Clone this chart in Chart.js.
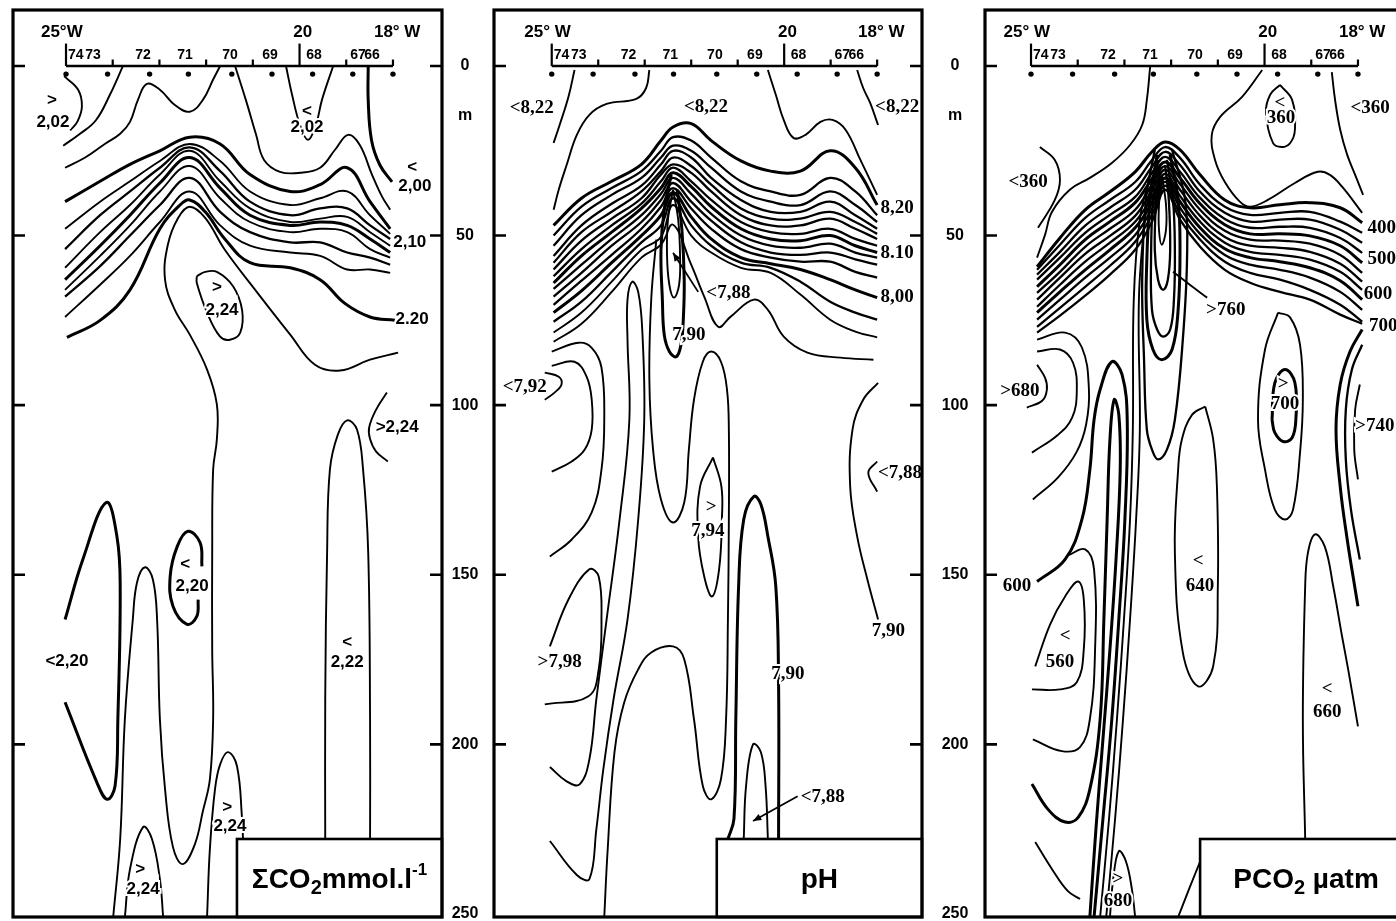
<!DOCTYPE html>
<html>
<head>
<meta charset="utf-8">
<script src="https://cdn.jsdelivr.net/npm/chart.js@4.4.1/dist/chart.umd.min.js"></script>
<style>
  body { margin: 0; background: #fff; overflow: hidden; width: 1396px; height: 921px; position: relative; }
  canvas { position: absolute; top: 0; }
</style>
</head>
<body>
<canvas id="co2" width="490" height="921" style="left:0"></canvas>
<canvas id="ph" width="490" height="921" style="left:490px"></canvas>
<canvas id="pco2" width="440" height="921" style="left:980px"></canvas>
<script>
// stations along the section (deg W) and the surface axis
const stationLon = [25.0, 24.11, 23.21, 22.38, 21.45, 20.59, 19.72, 18.86, 18.0];
const stationNames = ['74', '73', '72', '71', '70', '69', '68', '67', '66'];
const stationNameLon = [24.79, 24.42, 23.35, 22.45, 21.49, 20.63, 19.69, 18.75, 18.45];
const lonTicks = [25, 24, 23, 22, 21, 20, 19, 18];
const lonMajor = [25, 20];
const depthTicks = [0, 50, 100, 150, 200, 250];

// ---------- total CO2 (mmol/l) ----------
const co2A = [[25.04,3],[24.74,7],[24.66,12],[24.76,16.5],[24.91,19]];
const co2B = [[23.78,0],[24.06,8.5],[24.36,16],[24.70,20],[25.06,23.5]];
const co2C = [[25.02,30],[24.59,27],[24.17,23],[23.84,20],[23.63,16.5],[23.46,10],[23.27,5.3],[22.99,7],[22.67,11.5],[22.35,13.5],[22.07,10],[21.85,4],[21.70,0]];
const co2V = [[20.29,0],[20.16,8.5],[19.99,17.4],[19.82,21.8],[19.65,17.4],[19.52,10],[19.28,0]];
const co2D = [[21.38,0],[21.15,10],[20.93,20.3],[20.76,27.7],[20.42,31.2],[19.99,31.5],[19.56,30],[19.24,24.7],[18.96,20.3],[18.71,23.3],[18.45,32],[18.23,38.6],[18.06,42.4]];
const co2R = [[18.53,0],[18.53,10],[18.46,21.8],[18.28,29.2],[18.02,34.2]];
const co2BandLon = [25.02,24.27,23.63,22.99,22.35,21.70,21.06,20.20,19.56,18.98,18.49,18.06];
const co2L1 = [40,34,29,25,21,23,32,37,35,30,40,48];
const co2L2 = [48,40,34,28,23,28,37,41,39,37,44,49.5];
const co2L3 = [54,44,37,30,24,31,40,44,42,42,47,51];
const co2L4 = [59.5,49,41,32,25,34,42,46,45,44.5,49,53];
const co2L5 = [63,53,44,34.5,27,36,44,47,46,47,51,55];
const co2L6 = [66,56,47,37,29.5,39,46,49,48,49,54,56.5];
const co2L7 = [68,59,50,41,33,43,49,52,52,55,56.5,58.6];
const co2L8 = [74,64.5,56,46,37,47,53,55,56,60,60,61];
const co2T220 = [[24.98,80],[24.27,75],[23.63,66],[22.99,48],[22.56,41],[22.35,39.5],[22.02,43],[21.60,51],[21.06,58],[20.20,59.5],[19.56,63],[19.03,70],[18.49,74],[17.96,75]];
const co2Long = [[17.89,84.5],[18.49,86.6],[19.13,89.8],[19.67,88.1],[20.20,79.2],[20.95,66],[21.60,54.2],[22.02,44.8],[22.35,41.5],[22.60,44.8],[22.82,52.7],[22.88,63],[22.67,71.9],[22.35,79.2],[21.98,89.5],[21.77,99.8],[21.77,110],[21.85,119],[21.87,143.4],[21.87,172],[21.85,192.6],[21.92,210.3],[22.07,219.7],[22.24,229.4],[22.50,235.3],[22.71,230.3],[22.88,213.2],[22.99,192.6],[23.05,163.2],[23.14,151.4],[23.31,147.8],[23.48,152.3],[23.57,163.2],[23.74,192.6],[23.84,227.9],[23.99,250.9]];
const co2Loop224 = [[22.20,62],[22.02,60.7],[21.77,60.7],[21.42,65],[21.23,72],[21.27,78.6],[21.49,80.7],[21.70,79.8],[21.98,72.7],[22.20,64],[22.20,62]];
const co2Br224 = [[18.13,96.3],[18.36,101.3],[18.51,106.6],[18.49,110],[18.36,113.7],[18.11,116.6]];
const co2Loop222 = [[19.45,227.9],[19.45,186.7],[19.41,143.4],[19.35,119],[19.18,108.7],[18.98,104.5],[18.77,107.2],[18.64,119],[18.53,143.4],[18.49,192.6],[18.49,227.9]];
const co2Br220 = [[25.02,163.2],[24.64,145.5],[24.14,128.7],[23.91,138.7],[23.84,153.4],[23.89,192.6],[23.95,212.3],[24.12,216.2],[24.34,211.2],[25.02,187.6]];
const co2Loop220 = [[22.09,147.5],[22.13,140.5],[22.39,137.2],[22.62,141.7],[22.77,150.5],[22.71,159.3],[22.41,164.6],[22.20,162.3],[22.17,157.3]];
const co2Hump224a = [[23.74,250.9],[23.63,236.8],[23.35,224.4],[23.16,227.9],[22.99,239.7],[22.92,250.9]];
const co2Hump224b = [[21.98,250.9],[21.92,230.9],[21.81,213.2],[21.70,205.9],[21.53,202.3],[21.34,206.4],[21.23,222],[21.21,227.9]];
const co2Labels = [
  ['>',25.30,10],['2,02',25.28,16.5],['<',19.84,13.5],['2,02',19.84,18],
  ['<',17.59,30],['2,00',17.53,35.6],['2,10',17.64,52.1],['2.20',17.59,74.8],
  ['>',21.77,65.4],['2,24',21.66,71.9],['>2,24',17.91,106.6],
  ['<',22.45,147],['2,20',22.30,153.4],['<2,20',24.98,175.5],
  ['<',18.98,170],['2,22',18.98,175.8],['>',21.55,218.5],['2,24',21.49,224.1],
  ['>',23.41,236.8],['2,24',23.35,242.7]
];

// ---------- pH ----------
const phP1 = [[24.51,1.2],[24.64,9.1],[24.83,17.4],[24.96,22.7]];
const phP2 = [[22.90,1.2],[22.97,6.5],[23.18,9.7],[23.82,11.2],[24.19,14.4],[24.46,20.3],[24.68,29.2],[24.85,36.5],[24.96,42.4]];
const phPa = [[20.35,1.2],[20.18,8.5],[20.01,15.9],[19.80,21.2],[19.54,20.3],[19.22,16.5],[18.96,15.9],[18.68,18.8],[18.36,27.7],[18.00,38]];
const phP4 = [[18.43,1.2],[18.30,6.5],[18.15,10.9],[17.98,17.4]];
const phBandLon = [24.96,24.36,23.71,23.07,22.65,22.39,22.00,21.57,20.93,20.29,19.65,19.01,18.47,18.00];
const phT1 = [47,39,34,29,22,18,17,22,28,31,31,25,30,41];
const phT2 = [50,41.5,36,31,25,21,22,27,34,37,38,33,37,44];
const phT3 = [53,44,38,33,27,23.5,25,30,37,40,41,37,41,46];
const phT4 = [56,47,40.6,35.3,29,25,27,33,39.5,43,43,40,44,48];
const phT5 = [58,49,43,37,31,27,29.5,35,42,45,45,43,46,49.5];
const phT6 = [60,51.5,45,39,32,29,31.5,37,44,47,47,45,48,51];
const phT7 = [62,54,47,40.6,34,30,34,39.5,46,49,49.5,48,51,53];
const phT8 = [64,56,49,42,36,31.5,35.6,41.5,48,51,51.5,50,53,55];
const phT9 = [65.7,58.6,51,44,37.7,33,37.7,43.6,50,53,53.6,52.4,55,56.5];
const phT10 = [68,61,53,46,39.5,34.5,40,45.6,52,55,55.7,55,57,58.6];
const phT11 = [70.4,63.3,55.7,48,41.5,36,42,48,54,56.5,57.7,57.7,60.7,62.4];
const phT12 = [72.7,66.3,58,50,44,37.4,44.5,51,56.5,58.3,60,63,66,68.3];
const phT13 = [75.4,69.5,60.7,52,47,39,47,53,58,59.5,63.6,69.5,72.7,74.8];
const phT14 = [78.6,72.7,63.6,54.2,50.4,41,50,55,59.5,61,67.4,74.8,78.3,80];
const phT15 = [[24.96,81.3],[24.36,76],[23.71,66.6],[23.07,56.5],[22.65,52.7],[22.39,46.8],[22.00,58.6],[21.72,68],[21.42,76.9],[21.15,73.9],[20.65,68.9],[20.35,71.9],[20.01,79.8],[19.50,84.5],[18.79,86],[18.08,86.6]];
const phBr1 = [[25.00,84.2],[24.42,81.6],[24.14,83.1],[23.93,88.9],[23.87,104.3],[23.93,119],[24.14,131.6],[24.57,139.6],[25.04,144.6]];
const phBr2 = [[25.00,88.4],[24.51,87.2],[24.25,91.6],[24.14,98.4],[24.14,107.2],[24.29,113.1],[24.57,116.6],[25.00,119.6]];
const phBr792 = [[25.15,90.4],[24.85,91.6],[24.79,93.9],[24.94,96.3],[25.15,98.4]];
const phArch = [[25.04,206.7],[24.68,210.9],[24.40,211.8],[24.19,204.4],[24.04,186.7],[23.82,163.2],[23.54,133.7],[23.33,104.3],[23.37,80.7],[23.37,68.9],[23.27,63.6],[23.14,66.6],[23.05,78.6],[23.01,104.3],[23.14,133.7],[23.37,163.2],[23.67,186.7],[23.89,207.3],[24.04,225],[24.19,239.7],[24.46,238.5],[25.04,228.5]];
const phU = [[22.75,51.2],[22.86,68.9],[22.90,92.5],[22.82,113.1],[22.65,127.8],[22.39,134.6],[22.15,128.7],[22.05,113.1],[21.94,98.4],[21.75,87.2],[21.57,84.2],[21.36,87.2],[21.23,95.4],[21.19,107.2],[21.19,133.7],[21.21,163.2],[21.25,192.6],[21.36,210.3],[21.57,216.2],[21.75,212.3],[21.94,192.6],[22.15,174.9],[22.39,171.1],[22.86,172.9],[23.14,177.9],[23.44,187.6],[23.65,202.3],[23.80,231.8],[23.87,250.9]];
const phN2 = [[22.43,32.1],[22.58,42.4],[22.65,54.2],[22.62,68.9],[22.58,79.2],[22.47,84.2],[22.32,85.7],[22.22,82.2],[22.17,74.8],[22.15,63],[22.20,48.3],[22.30,36.5]];
const phN1 = [[22.39,36.5],[22.50,45.3],[22.52,55.7],[22.47,64.5],[22.37,68.3],[22.26,64.5],[22.24,55.7],[22.28,45.3],[22.39,36.5]];
const ph794 = [[21.53,115.4],[21.35,124],[21.34,133.7],[21.40,148.4],[21.55,156.4],[21.72,150.5],[21.85,138.7],[21.81,124],[21.53,115.4]];
const phH2 = [[21.21,227.9],[21.08,222],[21.04,192.6],[20.98,153.4],[20.87,133.7],[20.65,126.9],[20.50,129.3],[20.35,138.7],[20.18,153.4],[20.12,182.9],[20.12,227.9]];
const phH3 = [[20.87,227.9],[20.82,212.3],[20.67,200],[20.50,202.3],[20.40,212.3],[20.35,227.9]];
const phR790 = [[17.98,93.4],[18.30,98.4],[18.53,107.2],[18.58,124],[18.43,138.7],[18.21,151.4],[17.98,163.2]];
const phR788 = [[18.00,116.6],[18.19,119.9],[18.00,125.5]];
const ph798 = [[25.04,171.1],[24.64,157.3],[24.19,148.4],[23.99,150.5],[23.93,163.2],[23.99,177.9],[24.21,185.8],[25.15,188.2]];
const phArrows = [[[21.85,66.6],[22.39,55.1]], [[19.71,215.3],[20.67,222.6]]];
const phLabels = [
  ['<8,22',25.43,12.4],['<8,22',21.68,12.1],['<8,22',17.57,12.1],
  ['8,20',17.57,41.8],['8.10',17.57,55.1],['8,00',17.57,68],
  ['<7,88',21.20,67],['7,90',22.05,79.2],['<7,92',25.58,94.8],
  ['>',21.57,130],['7,94',21.64,137.2],['<7,88',17.51,120],['7,90',17.76,166.7],
  ['>7,98',24.83,175.8],['7,90',19.92,179.3],['<7,88',19.17,215.6]
];

// ---------- pCO2 (uatm) ----------
const pcQ1 = [[22.45,0.3],[22.52,10],[22.62,17.4],[22.88,23.3],[23.27,28.6],[23.74,33],[24.17,36.5],[24.55,43],[24.70,49.8],[24.87,56.5]];
const pcQ2 = [[24.81,23.9],[24.49,27.7],[24.38,33.6],[24.49,39.5],[24.85,47.7]];
const pcQ3 = [[20.05,1.2],[20.48,9.1],[20.95,15],[21.13,20.3],[21.06,27.7],[20.85,34.2],[20.53,40],[20.31,41.5],[19.93,39.5],[19.35,34.5],[18.86,31.2],[18.60,32.1],[18.34,35.6],[17.91,43.3]];
const pcQ4 = [[19.67,5.6],[19.41,10],[19.35,18.8],[19.45,22.7],[19.63,23.9],[19.82,22.7],[19.97,13.8],[19.88,8.5],[19.67,5.6]];
const pcQ5 = [[18.56,1.8],[18.49,10],[18.38,18.8],[18.23,26.2],[18.06,32.1],[17.89,38]];
const pcBandLon = [24.87,24.38,23.84,23.31,22.77,22.41,22.13,21.81,21.38,20.85,20.31,19.67,19.03,18.38,17.91];
const pcB1 = [59.2,50.7,42.4,37.1,31.2,25.3,22.4,24.7,32.1,39.5,41.8,40.9,40.3,41.8,46.2];
const pcB2 = [60.1,52.7,44.8,39.5,34.2,27.7,23.9,27.1,35,41.5,43.9,43.3,43,45.9,49.2];
const pcB3 = [61.5,54.8,47.1,41.8,36.5,29.7,25.3,29.2,37.1,43.3,45.9,45.3,45.3,48.3,52.1];
const pcB4 = [63,56.5,49.2,43.9,38.6,31.5,26.8,31.2,38.9,45.1,47.7,47.4,47.7,50.7,55.1];
const pcB5 = [65.1,58.6,51.2,45.9,40.3,33.3,28.3,33,40.6,46.8,49.5,49.5,50.1,53,58];
const pcB6 = [66.9,60.7,53.3,48,42.4,35,29.5,34.8,42.4,48.6,51.2,51.5,52.4,55.7,61];
const pcB7 = [68.9,62.4,55.4,50.1,44.2,36.8,30.6,36.5,44.2,50.4,53,53.6,54.8,58.3,63.6];
const pcB8 = [71,64.5,57.7,52.1,45.9,38.6,31.8,38.3,45.9,52.1,54.8,55.7,57.1,60.7,66];
const pcB9 = [72.7,66.6,60.1,54.2,47.7,40.3,33,40,47.7,53.9,56.5,57.7,59.5,63.3,68.9];
const pcB10 = [74.8,68.9,62.4,56.5,49.8,42.1,34.2,41.8,49.5,55.7,58.6,60.1,62.4,66.6,71.9];
const pcB11 = [76.9,71.3,65.1,58.9,51.8,43.9,35.3,43.6,51.2,57.7,61,63,66,70.4,75.4];
const pcB12 = [78.6,73.6,67.7,61.5,54.2,45.9,36.5,45.3,53.3,60.1,63.9,66.6,68.9,73.3,76];
const pcLoopA = [[22.20,32.1],[22.26,40.9],[22.26,48.3],[22.20,52.7],[22.11,48.3],[22.11,40.9],[22.20,32.1]];
const pcLoopB = [[22.24,29.2],[22.32,39.5],[22.35,54.2],[22.28,63],[22.17,66],[22.07,63],[22.02,54.2],[22.05,39.5],[22.13,29.2]];
const pcLoopC = [[22.28,27.7],[22.39,39.5],[22.43,57.1],[22.41,71.9],[22.30,77.7],[22.17,79.8],[22.02,77.7],[21.94,68.9],[21.92,54.2],[21.96,39.5],[22.09,27.7]];
const pcLoopD = [[22.30,26.2],[22.45,39.5],[22.52,57.1],[22.52,74.8],[22.39,83.6],[22.20,86.6],[21.98,83.6],[21.85,71.9],[21.81,54.2],[21.85,39.5],[22.02,26.2]];
const pcLoopE = [[22.35,24.7],[22.54,39.5],[22.62,63],[22.58,86.6],[22.52,107.2],[22.41,113.1],[22.28,116],[22.09,113.1],[21.92,104.3],[21.75,80.7],[21.66,57.1],[21.70,39.5],[21.98,24.7]];
const pc760 = [[21.96,60.7],[21.60,64.5],[21.23,68.3]];
const pcK2 = [[22.45,32.1],[22.67,45.3],[22.80,68.9],[22.82,107.2],[22.88,133.7],[23.01,163.2],[23.16,192.6],[23.33,222],[23.52,250.9]];
const pcK3 = [[22.39,32.1],[22.56,45.3],[22.69,68.9],[22.67,107.2],[22.75,133.7],[22.88,163.2],[23.03,192.6],[23.20,222],[23.39,250.9]];
const pcHump = [[24.87,152],[24.27,145.5],[23.91,133.7],[23.74,119],[23.65,104.3],[23.52,95.4],[23.27,87.2],[23.05,91],[22.94,104.3],[22.99,133.7],[23.12,163.2],[23.27,192.6],[23.46,222],[23.65,250.9]];
const pcK4 = [[24.98,211.7],[24.64,219.1],[24.27,222.9],[23.99,221.5],[23.74,213.2],[23.52,192.6],[23.44,163.2],[23.37,133.7],[23.31,110.1],[23.22,98.4],[23.12,102.8],[23.09,119],[23.18,145.5],[23.31,172],[23.46,198.5],[23.61,225],[23.74,250.9]];
const pcBrA = [[24.87,80.7],[24.27,78.6],[23.91,83],[23.76,95.4],[23.82,105.7],[24.02,113.7],[24.42,121.3],[24.96,127.8]];
const pcBrB = [[24.87,84.2],[24.38,83.6],[24.10,87.5],[24.02,96],[24.12,103.7],[24.42,108.7],[24.98,114]];
const pcBr680 = [[24.87,88.1],[24.70,91.9],[24.66,95.4],[24.76,98.7],[25.09,100.7]];
const pcLoop560 = [[24.91,177],[24.59,164.6],[24.27,156.4],[23.99,152],[23.87,157.3],[23.87,172],[24.02,181.7],[24.38,183.8],[24.98,183.8]];
const pcBr560 = [[24.21,144.3],[23.84,142.5],[23.65,148.4],[23.63,172.9],[23.74,192.6],[23.95,200.8],[24.34,202],[24.96,198.5]];
const pcBottomLeft = [[24.91,228.8],[24.55,236.8],[24.21,243.3],[23.95,245.6]];
const pcHump680 = [[23.31,250.9],[23.24,239.7],[23.12,231.5],[22.97,234.4],[22.84,242.7],[22.77,250.9]];
const pcLoop640 = [[21.27,100.4],[21.55,102.8],[21.77,110.1],[21.85,119],[21.92,143.4],[21.75,172.9],[21.42,182.9],[21.10,177],[21.00,153.4],[21.02,124],[21.10,110.1],[21.27,100.4]];
const pcRise = [[21.85,250.9],[21.60,242.1],[21.36,233.9]];
const pcLoop700 = [[19.84,104.3],[19.78,93.4],[19.56,89.5],[19.35,93.4],[19.33,104.3],[19.41,109.6],[19.60,110.7],[19.78,108.1],[19.84,104.3]];
const pcOuter700 = [[19.71,72.7],[19.99,83.6],[20.14,104.3],[19.99,119],[19.78,130.8],[19.56,133.7],[19.39,130.8],[19.24,114],[19.18,98.4],[19.24,82.2],[19.45,74.2],[19.71,72.7]];
const pc660 = [[19.13,227.9],[19.18,192.6],[19.13,153.4],[19.07,143.4],[18.92,138.1],[18.71,141.7],[18.53,153.4],[18.34,168.2],[18.21,177.9],[18.00,194.7]];
const pcRR1 = [[17.91,77.7],[18.17,84.2],[18.38,93.9],[18.47,107.2],[18.38,124],[18.23,139.6],[18.06,154.3],[18.00,159.3]];
const pcRR2 = [[17.91,82.2],[18.13,89.5],[18.26,101.3],[18.26,116],[18.15,130.8],[17.96,145.5]];
const pcRR3 = [[17.96,93.9],[18.06,101.3],[18.08,113.1],[18.00,121.9]];
const pcLabels = [
  ['<360',17.74,12.4],['<',19.67,10.9],['360',19.65,15.3],['<360',25.06,34.2],
  ['400',17.49,47.7],['500',17.49,56.8],['600',17.57,67.4],['700',17.46,76.6],
  ['>760',20.83,71.9],['>680',25.24,96],['>',19.60,93.9],['700',19.56,99.8],['>740',17.64,106.3],
  ['600',25.30,153.4],['<',21.42,146.1],['640',21.38,153.4],['<',24.27,168.2],['560',24.38,175.8],
  ['<',18.66,183.8],['660',18.66,190.5],['>',23.14,239.7],['680',23.14,246.2]
];

const zip = (lons, depths) => lons.map((v, i) => [v, depths[i]]);

function contour(points, width) {
  return {
    data: points.map(p => ({ x: p[0], y: p[1] })),
    showLine: true, borderColor: '#000', borderWidth: width || 1.9,
    pointRadius: 0, tension: 0.4, fill: false
  };
}

const SANS = '"Liberation Sans", Arial, sans-serif';
const SERIF = '"Liberation Serif", "Times New Roman", serif';

// per panel: labels, arrows, legend box, depth scale on the right side
const extras = {
  co2: {
    first: '25°W', labels: co2Labels, labelFont: 'bold 17px ' + SANS, arrows: [],
    box: { lon: 21.34, depth: 227.9, parts: [['ΣCO', 0], ['2', 1], ['mmol.l', 0], ['-1', -1]] },
    depthScale: 23
  },
  ph: {
    first: '25° W', labels: phLabels, labelFont: 'bold 19px ' + SERIF, arrows: phArrows,
    box: { lon: 21.45, depth: 227.9, parts: [['pH', 0]] },
    depthScale: 33
  },
  pco2: {
    first: '25° W', labels: pcLabels, labelFont: 'bold 19px ' + SERIF, arrows: [],
    box: { lon: 21.38, depth: 227.9, parts: [['PCO', 0], ['2', 1], [' µatm', 0]] },
    depthScale: null
  }
};

const sectionPlugin = {
  id: 'section',
  afterDatasetsDraw(chart) {
    const o = extras[chart.canvas.id];
    const ctx = chart.ctx, a = chart.chartArea;
    const X = v => chart.scales.x.getPixelForValue(v);
    const Y = v => chart.scales.y.getPixelForValue(v);
    ctx.save();
    ctx.strokeStyle = '#000';
    ctx.fillStyle = '#000';
    ctx.lineCap = 'butt';

    // longitude ticks on the surface axis
    ctx.lineWidth = 2.2;
    lonTicks.forEach(t => {
      ctx.beginPath();
      ctx.moveTo(X(t), Y(0));
      ctx.lineTo(X(t), Y(lonMajor.includes(t) ? -6.6 : -1.9));
      ctx.stroke();
    });
    ctx.textAlign = 'center';
    ctx.textBaseline = 'middle';
    ctx.font = 'bold 14px ' + SANS;
    stationNames.forEach((s, i) => ctx.fillText(s, X(stationNameLon[i]), Y(-3.2)));
    ctx.font = 'bold 17px ' + SANS;
    ctx.fillText(o.first, X(25.09), Y(-9.8));
    ctx.fillText('20', X(19.93), Y(-9.8));
    ctx.fillText('18° W', X(17.91), Y(-9.8));

    // isoline labels
    ctx.font = o.labelFont;
    o.labels.forEach(([s, lon, d]) => {
      ctx.lineWidth = 4;
      ctx.strokeStyle = '#fff';
      ctx.strokeText(s, X(lon), Y(d));
      ctx.fillText(s, X(lon), Y(d));
    });
    ctx.strokeStyle = '#000';

    // arrows pointing at small cores
    ctx.lineWidth = 1.8;
    o.arrows.forEach(([p0, p1]) => {
      const x0 = X(p0[0]), y0 = Y(p0[1]), x1 = X(p1[0]), y1 = Y(p1[1]);
      const ang = Math.atan2(y1 - y0, x1 - x0);
      ctx.beginPath(); ctx.moveTo(x0, y0); ctx.lineTo(x1, y1); ctx.stroke();
      ctx.beginPath();
      ctx.moveTo(x1, y1);
      ctx.lineTo(x1 - 9 * Math.cos(ang - 0.4), y1 - 9 * Math.sin(ang - 0.4));
      ctx.lineTo(x1 - 9 * Math.cos(ang + 0.4), y1 - 9 * Math.sin(ang + 0.4));
      ctx.closePath(); ctx.fill();
    });

    // legend box, bottom right
    const bx = X(o.box.lon), by = Y(o.box.depth);
    ctx.fillStyle = '#fff';
    ctx.fillRect(bx, by, a.right - bx, a.bottom - by);
    ctx.fillStyle = '#000';
    ctx.lineWidth = 2.6;
    ctx.strokeRect(bx, by, a.right - bx, a.bottom - by);
    const fonts = { '0': 'bold 28px ' + SANS, '1': 'bold 20px ' + SANS, '-1': 'bold 17px ' + SANS };
    const shift = { '0': 0, '1': 8, '-1': -10 };
    let total = 0;
    o.box.parts.forEach(([s, k]) => { ctx.font = fonts[k]; total += ctx.measureText(s).width; });
    let cx = (bx + a.right) / 2 - total / 2;
    const cy = (by + a.bottom) / 2 + 2;
    ctx.textAlign = 'left';
    o.box.parts.forEach(([s, k]) => {
      ctx.font = fonts[k];
      ctx.fillText(s, cx, cy + shift[k]);
      cx += ctx.measureText(s).width;
    });

    // frame with inward depth ticks
    ctx.lineWidth = 3.2;
    ctx.strokeRect(a.left, a.top, a.right - a.left, a.bottom - a.top);
    ctx.lineWidth = 2.6;
    depthTicks.slice(0, 5).forEach(d => {
      ctx.beginPath();
      ctx.moveTo(a.left, Y(d)); ctx.lineTo(a.left + 12, Y(d));
      ctx.moveTo(a.right - 12, Y(d)); ctx.lineTo(a.right, Y(d));
      ctx.stroke();
    });

    // depth scale between panels
    if (o.depthScale) {
      ctx.textAlign = 'center';
      ctx.font = 'bold 16px ' + SANS;
      const lx = a.right + o.depthScale;
      depthTicks.forEach(d => ctx.fillText(String(d), lx, Y(d)));
      ctx.fillText('m', lx, Y(14.6));
    }
    ctx.restore();
  }
};

function makePanel(id, xMin, xMax, padLeft, padRight, lines) {
  const datasets = lines.map(([pts, w]) => contour(pts, w));
  // surface axis and station positions
  datasets.push({ data: [{ x: 25, y: 0 }, { x: 18, y: 0 }], showLine: true, borderColor: '#000', borderWidth: 2.4, pointRadius: 0, tension: 0 });
  datasets.push({ data: stationLon.map(v => ({ x: v, y: 2.4 })), showLine: false, pointRadius: 2.7, pointBackgroundColor: '#000', pointBorderWidth: 0 });
  return new Chart(document.getElementById(id), {
    type: 'scatter',
    data: { datasets },
    options: {
      responsive: false,
      animation: false,
      events: [],
      layout: { padding: { left: padLeft, right: padRight, top: 10, bottom: 3 } },
      scales: {
        x: { type: 'linear', min: xMin, max: xMax, reverse: true, display: false },
        y: { type: 'linear', min: -16.5, max: 250.9, reverse: true, display: false }
      },
      plugins: { legend: { display: false }, tooltip: { enabled: false } }
    },
    plugins: [sectionPlugin]
  });
}

const THIN = 1.9, MID = 2.3, BOLD = 3;

makePanel('co2', 16.95, 26.135, 13, 48, [
  [co2A, THIN], [co2B, THIN], [co2C, THIN], [co2V, THIN], [co2D, THIN], [co2R, BOLD],
  [zip(co2BandLon, co2L1), BOLD], [zip(co2BandLon, co2L2), THIN], [zip(co2BandLon, co2L3), MID],
  [zip(co2BandLon, co2L4), THIN], [zip(co2BandLon, co2L5), BOLD], [zip(co2BandLon, co2L6), THIN],
  [zip(co2BandLon, co2L7), MID], [zip(co2BandLon, co2L8), THIN],
  [co2T220, BOLD], [co2Long, THIN], [co2Loop224, THIN], [co2Br224, THIN], [co2Loop222, THIN],
  [co2Br220, BOLD], [co2Loop220, BOLD], [co2Hump224a, THIN], [co2Hump224b, THIN]
]);

makePanel('ph', 17.035, 26.242, 2, 58, [
  [phP1, THIN], [phP2, THIN], [phPa, THIN], [phP4, THIN],
  [zip(phBandLon, phT1), BOLD], [zip(phBandLon, phT2), MID], [zip(phBandLon, phT3), MID],
  [zip(phBandLon, phT4), MID], [zip(phBandLon, phT5), MID], [zip(phBandLon, phT6), MID],
  [zip(phBandLon, phT7), MID], [zip(phBandLon, phT8), BOLD], [zip(phBandLon, phT9), MID],
  [zip(phBandLon, phT10), MID], [zip(phBandLon, phT11), MID], [zip(phBandLon, phT12), BOLD],
  [zip(phBandLon, phT13), MID], [zip(phBandLon, phT14), THIN], [phT15, THIN],
  [phBr1, THIN], [phBr2, THIN], [phBr792, THIN], [phArch, THIN], [phU, THIN],
  [phN2, BOLD], [phN1, THIN], [ph794, THIN], [phH2, BOLD], [phH3, THIN],
  [phR790, THIN], [phR788, THIN], [ph798, THIN]
]);

makePanel('pco2', 16.843, 25.985, 5, 8, [
  [pcQ1, THIN], [pcQ2, THIN], [pcQ3, THIN], [pcQ4, THIN], [pcQ5, THIN],
  [zip(pcBandLon, pcB1), BOLD], [zip(pcBandLon, pcB2), MID], [zip(pcBandLon, pcB3), MID],
  [zip(pcBandLon, pcB4), MID], [zip(pcBandLon, pcB5), BOLD], [zip(pcBandLon, pcB6), MID],
  [zip(pcBandLon, pcB7), MID], [zip(pcBandLon, pcB8), MID], [zip(pcBandLon, pcB9), BOLD],
  [zip(pcBandLon, pcB10), MID], [zip(pcBandLon, pcB11), MID], [zip(pcBandLon, pcB12), MID],
  [pcLoopA, THIN], [pcLoopB, MID], [pcLoopC, MID], [pcLoopD, BOLD], [pcLoopE, MID], [pc760, THIN],
  [pcK2, THIN], [pcK3, THIN], [pcHump, BOLD], [pcK4, BOLD],
  [pcBrA, THIN], [pcBrB, THIN], [pcBr680, THIN], [pcLoop560, THIN], [pcBr560, THIN],
  [pcBottomLeft, THIN], [pcHump680, THIN], [pcLoop640, THIN], [pcRise, THIN],
  [pcLoop700, BOLD], [pcOuter700, THIN], [pc660, THIN], [pcRR1, BOLD], [pcRR2, MID], [pcRR3, THIN]
]);
</script>
</body>
</html>
